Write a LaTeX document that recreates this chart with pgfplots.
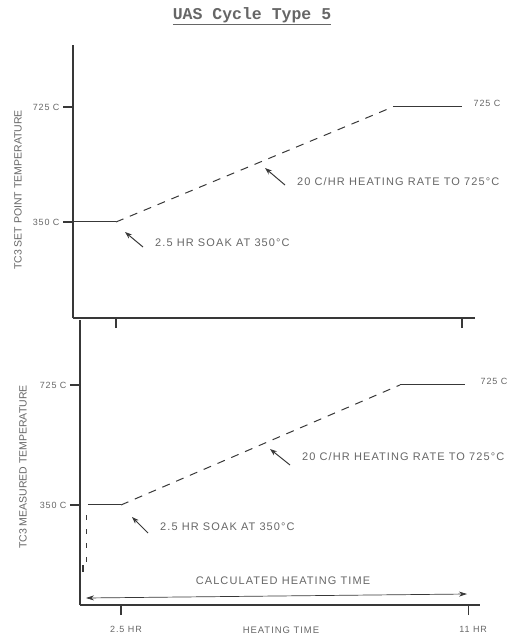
\documentclass[border=0pt]{standalone}
\usepackage{fontspec}
\usepackage{pgfplots}
\pgfplotsset{compat=1.18}
\usetikzlibrary{arrows.meta}
\setmainfont{Liberation Sans}
\newfontfamily\lab[LetterSpace=10]{Liberation Sans}
\newfontfamily\labn{Liberation Sans}
\newfontfamily\ttl{Liberation Mono}
\definecolor{ink}{gray}{0.22}
\definecolor{txt}{gray}{0.40}
\begin{document}
\begin{tikzpicture}[x=1pt,y=1pt]
\path[use as bounding box] (0,0) rectangle (527,-639);
\pgfplotsset{
  every axis/.append style={
    scale only axis, axis lines=left,
    axis line style={-, ink, line width=1.2pt},
    tick align=outside, major tick length=10pt,
    tick style={ink, line width=1.2pt},
    clip=false,
    ticklabel style={font=\lab\fontsize{9}{10}\selectfont, text=txt},
    xlabel style={font=\lab\fontsize{9.5}{10}\selectfont, text=txt},
    ylabel style={font=\labn\fontsize{10.5}{11}\selectfont, text=txt},
  },
}
% ---------- top panel: set point ----------
\begin{axis}[at={(73pt,-318pt)}, anchor=south west,
  width=402pt, height=273pt,
  xmin=1.444, xmax=11.32, ymin=37, ymax=927,
  xtick={2.5,11}, xticklabels={},
  ytick={350,725}, yticklabels={350 C,725 C},
  ylabel={TC3 SET POINT TEMPERATURE},
  ylabel style={at={(axis description cs:-0.137,0.469)}, anchor=center},
]
\addplot[ink, line width=1pt] coordinates {(1.444,350) (2.5,350)};
\addplot[ink, line width=1pt, dash pattern=on 8pt off 7pt] coordinates {(2.5,350) (9.30,725)};
\addplot[ink, line width=1pt] coordinates {(9.30,725) (11.0,725)};
\node[anchor=west, font=\lab\fontsize{9}{10}\selectfont, text=txt] at (axis cs:11.2,735) {725 C};
\end{axis}
% ---------- bottom panel: measured ----------
\begin{axis}[at={(80pt,-605pt)}, anchor=south west,
  width=400pt, height=285pt,
  xmin=1.496, xmax=11.29, ymin=37.5, ymax=928,
  xtick={2.5,11}, xticklabels={2.5 HR,11 HR},
  xticklabel style={xshift=5pt, yshift=-8pt},
  ytick={350,725}, yticklabels={350 C,725 C},
  ylabel={TC3 MEASURED TEMPERATURE},
  ylabel style={at={(axis description cs:-0.1425,0.484)}, anchor=center},
  xlabel={HEATING TIME},
  xlabel style={at={(axis description cs:0.5025,-0.0877)}, anchor=center},
]
\addplot[ink, line width=1.6pt] coordinates {(1.57,141) (1.57,162)};
\addplot[ink, line width=0.9pt, dash pattern=on 5pt off 9pt] coordinates {(1.643,172) (1.643,344)};
\addplot[ink, line width=1pt] coordinates {(1.69,350) (2.5,350)};
\addplot[ink, line width=1pt, dash pattern=on 8pt off 7pt] coordinates {(2.5,350) (9.33,725)};
\addplot[ink, line width=1pt] coordinates {(9.33,725) (10.93,725)};
\node[anchor=west, font=\lab\fontsize{9}{10}\selectfont, text=txt] at (axis cs:11.22,735) {725 C};
\end{axis}
% ---------- title ----------
\node[font=\ttl\bfseries\fontsize{16.5}{18}\selectfont, text=txt] at (252,-16) {\underline{UAS Cycle Type 5}};
% ---------- annotations ----------
\tikzset{ann/.style={ink, line width=1pt, -{Stealth[length=7pt,width=5pt]}},
         anntext/.style={anchor=west, font=\lab\fontsize{11}{12}\selectfont, text=txt, inner sep=0pt}}
\draw[ann] (143,-247) -- (125,-232);
\node[anntext] at (155,-243) {2.5 HR SOAK AT 350°C};
\draw[ann] (285,-185) -- (265,-168);
\node[anntext] at (297,-182) {20 C/HR HEATING RATE TO 725°C};
\draw[ann] (148,-533) -- (132,-517);
\node[anntext] at (160,-527) {2.5 HR SOAK AT 350°C};
\draw[ann] (290,-465) -- (270,-449);
\node[anntext] at (302,-457) {20 C/HR HEATING RATE TO 725°C};
\draw[ink, line width=0.7pt, {Stealth[length=8pt,width=5pt]}-{Stealth[length=8pt,width=5pt]}] (86,-598) -- (467,-594);
\node[font=\lab\fontsize{11}{12}\selectfont, text=txt] at (283,-581) {CALCULATED HEATING TIME};
\end{tikzpicture}
\end{document}
